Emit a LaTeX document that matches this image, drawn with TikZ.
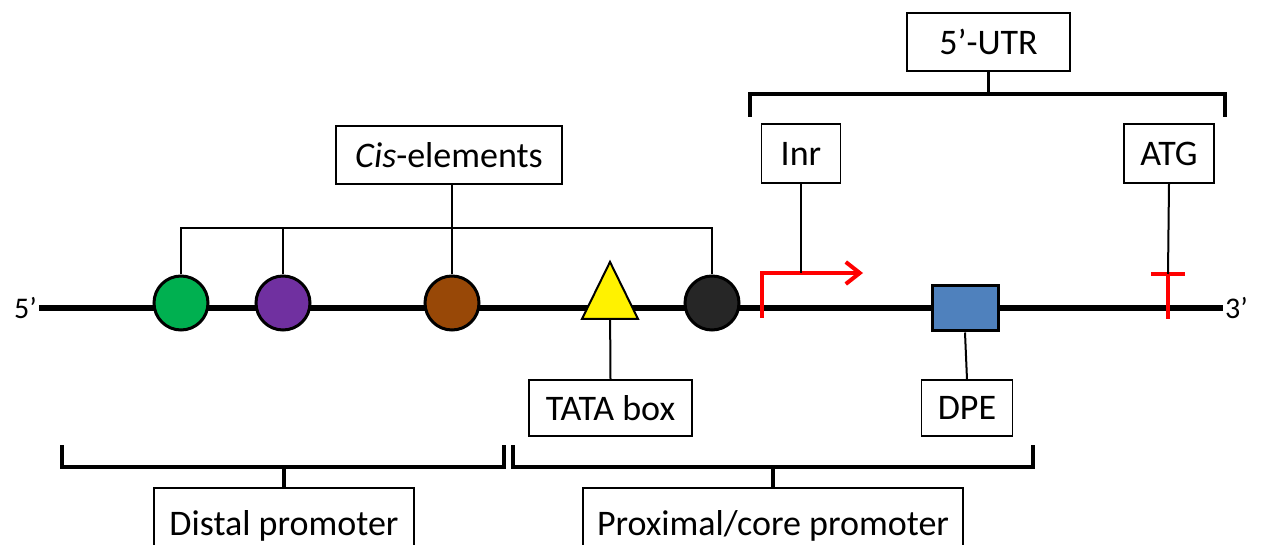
\documentclass[tikz,border=0pt]{standalone}
\usepackage{fontspec}
\setmainfont{Carlito}
\usetikzlibrary{arrows.meta,shapes.geometric}
\definecolor{cgreen}{HTML}{00B050}
\definecolor{cpurple}{HTML}{7030A0}
\definecolor{cbrown}{HTML}{984807}
\definecolor{cblack}{HTML}{262626}
\definecolor{cblue}{HTML}{4F81BD}
\definecolor{cred}{HTML}{FF0000}
\tikzset{
  lbl/.style={draw=black, line width=1.1pt, fill=white, inner sep=0pt, font=\fontsize{36}{40}\selectfont},
  endlbl/.style={inner sep=2pt, font=\fontsize{30}{34}\selectfont},
  elem/.style={circle, draw=black, line width=3pt, minimum size=54pt, inner sep=0pt},
  conn/.style={line width=2pt},
  bracket/.style={line width=3.5pt, line join=miter},
  dna/.style={line width=6pt},
  redmark/.style={draw=cred, line width=4pt, line join=miter}
}
\begin{document}
\begin{tikzpicture}[x=1pt,y=-1pt]
\useasboundingbox (0,0) rectangle (1267,545);
% end labels and DNA line
\node[endlbl, anchor=east] (p5) at (39,308) {5’};
\node[endlbl, anchor=west] (p3) at (1223,308) {3’};
\draw[dna] (p5.east) -- (p3.west);
% elements on the line
\node[elem, fill=cgreen] (green) at (181,303) {};
\node[elem, fill=cpurple] (purple) at (283,303) {};
\node[elem, fill=cbrown] (brown) at (452,303) {};
\node[elem, fill=cblack] (black) at (712,303) {};
\node[isosceles triangle, shape border rotate=90, isosceles triangle stretches,
      minimum width=56pt, minimum height=57pt, inner sep=0pt,
      draw=black, line width=2pt, fill=yellow] (tataEl) at (610,301.5) {};
\node[draw=black, line width=3pt, fill=cblue, minimum width=66pt, minimum height=45pt, inner sep=0pt] (dpeEl) at (965,308.5) {};
% Inr arrow and ATG mark
\coordinate (tss0) at (762,318);
\coordinate (tss1) at (762,273);
\coordinate (tss2) at (863,273);
\draw[redmark, -{Straight Barb[length=14pt,width=22pt,line width=4pt]}] (tss0) -- (tss1) -- (tss2);
\coordinate (atgT) at (1168,274);
\coordinate (atgB) at (1168,319);
\coordinate (atgL) at (1151,274);
\coordinate (atgR) at (1185,274);
\draw[redmark] (atgB) -- (atgT);
\draw[redmark] (atgL) -- (atgR);
% label boxes
\node[lbl, minimum width=226pt, minimum height=58pt] (cis) at (449,155) {\textit{Cis}-elements};
\node[lbl, minimum width=163pt, minimum height=58pt] (utr) at (988.5,42) {5’-UTR};
\node[lbl, minimum width=79pt, minimum height=59pt] (inr) at (801,153.5) {Inr};
\node[lbl, minimum width=90pt, minimum height=59pt] (atg) at (1169,153.5) {ATG};
\node[lbl, minimum width=163pt, minimum height=56pt] (tata) at (610.5,408) {TATA box};
\node[lbl, minimum width=91pt, minimum height=56pt] (dpe) at (967,408) {DPE};
\node[lbl, minimum width=260pt, minimum height=76pt] (distal) at (284,526) {Distal promoter};
\node[lbl, minimum width=380pt, minimum height=76pt] (proximal) at (773,526) {Proximal/core promoter};
% cis-element bracket
\coordinate (cisbar) at (452,228);
\draw[conn] (green.north) -- (green.north |- cisbar) -- (black.north |- cisbar) -- (black.north);
\draw[conn] (purple.north) -- (purple.north |- cisbar);
\draw[conn] (brown.north) -- (brown.north |- cis.south);
% other connectors
\draw[conn] (inr.south) -- (inr.south |- tss1);
\draw[conn] (atg.south) -- (atgT);
\draw[conn] (tata.north) -- (tataEl);
\draw[conn] (dpe.north) -- (dpeEl.south);
% 5'-UTR bracket
\coordinate (utrL) at (750,117);
\coordinate (utrR) at (1225,117);
\coordinate (utrbar) at (988.5,94);
\draw[bracket] (utrL) |- (utrbar) -| (utrR);
\draw[bracket] (utr.south) -- (utrbar);
% bottom brackets
\coordinate (distL) at (62,445);
\coordinate (distR) at (504,445);
\coordinate (distbar) at (284,467);
\draw[bracket] (distL) |- (distbar) -| (distR);
\draw[bracket] (distbar) -- (distal.north);
\coordinate (proxL) at (513,445);
\coordinate (proxR) at (1033,445);
\coordinate (proxbar) at (773,467);
\draw[bracket] (proxL) |- (proxbar) -| (proxR);
\draw[bracket] (proxbar) -- (proximal.north);
\end{tikzpicture}
\end{document}
